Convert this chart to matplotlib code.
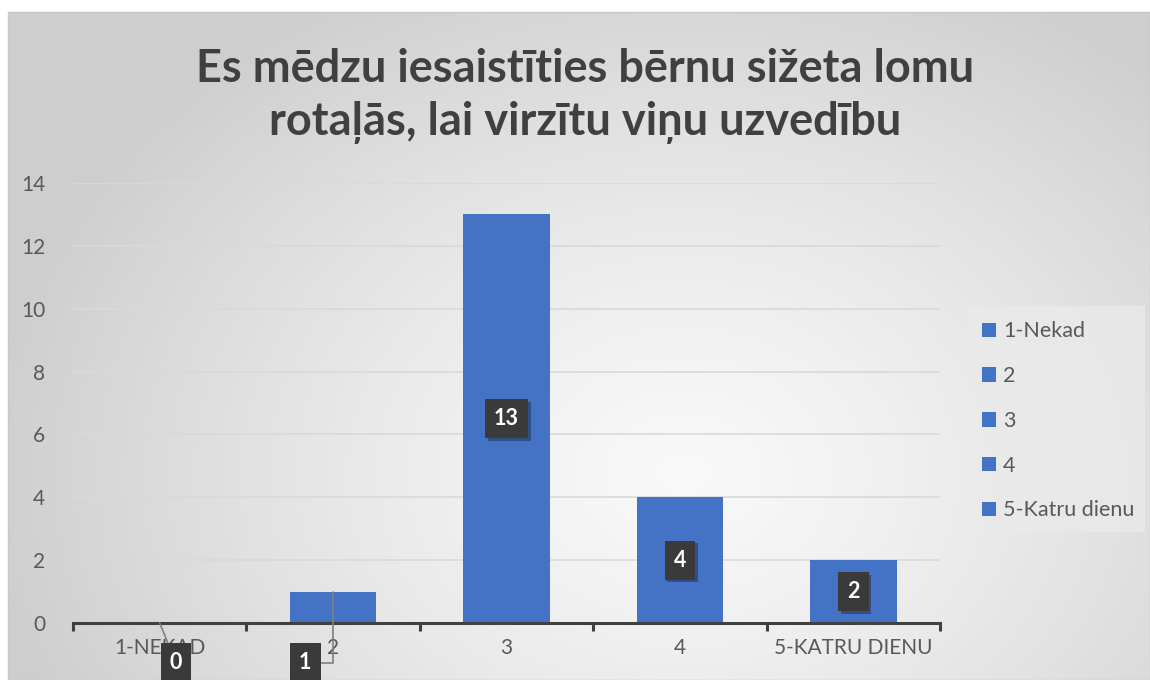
import numpy as np
import matplotlib
matplotlib.use("Agg")
import matplotlib.pyplot as plt
from matplotlib.patches import Patch, Rectangle
from matplotlib import patheffects as pe

categories = ["1-NEKAD", "2", "3", "4", "5-KATRU DIENU"]
legend_labels = ["1-Nekad", "2", "3", "4", "5-Katru dienu"]
values = [0, 1, 13, 4, 2]
title = "Es mēdzu iesaistīties bērnu sižeta lomu\nrotaļās, lai virzītu viņu uzvedību"
yticks = [0, 2, 4, 6, 8, 10, 12, 14]

BLUE = "#4472C4"
TXT = "#595959"
W, H = 1150, 680

plt.rcParams['font.family'] = ['Lato', 'DejaVu Sans']
fig = plt.figure(figsize=(W / 100, H / 100), dpi=100)
fig.patch.set_facecolor("white")

# background gradient chart area
bg = fig.add_axes([0, 0, 1, 1], zorder=-10)
bg.set_xlim(0, W); bg.set_ylim(H, 0); bg.axis("off")
yy, xx = np.mgrid[0:H, 0:W]
d = np.sqrt(((xx - 680) / 700.0) ** 2 + ((yy - 470) / 560.0) ** 2)
d = np.clip(d, 0, 1)
g = 0.975 - 0.165 * d ** 1.3
img = np.dstack([g, g, g])
bg.imshow(img, extent=(8, W, H, 12), aspect="auto", zorder=0)
bg.add_patch(Rectangle((8, 12), W - 8, H - 12, fill=False, ec="#C8C8C8", lw=1, zorder=1))
# legend box
bg.add_patch(Rectangle((969, 306), 176, 226, fc="#EAEAEA", ec="none", alpha=0.8, zorder=2))

ax = fig.add_axes([73 / W, 1 - 623 / H, (940 - 73) / W, (623 - 183) / H])
ax.set_facecolor("none")
x = np.arange(len(categories))
ax.bar(x, values, width=0.5, color=BLUE, zorder=3)
ax.set_xlim(-0.5, len(categories) - 0.5)
ax.set_ylim(0, 14)
ax.set_yticks(yticks)
ax.set_yticklabels([str(t) for t in yticks], fontsize=15, color=TXT)
ax.yaxis.grid(True, color="#D9D9D9", lw=1.2, zorder=0)
ax.set_axisbelow(True)
for s in ["top", "right", "left"]:
    ax.spines[s].set_visible(False)
ax.spines["bottom"].set_color("#404040")
ax.spines["bottom"].set_linewidth(2.2)
ax.spines["bottom"].set_zorder(4)
ax.tick_params(axis="y", length=0, pad=20)
ax.set_xticks(x)
ax.set_xticklabels(categories, fontsize=15, color=TXT)
ax.tick_params(axis="x", length=0, pad=11)
ax.set_xticks(np.arange(-0.5, len(categories), 1.0), minor=True)
ax.tick_params(axis="x", which="minor", length=6, width=2.2, color="#404040")

box = dict(boxstyle="square,pad=0.42", fc="#3A3A3A", ec="none")
shadow = [pe.withSimplePatchShadow(offset=(2, -2), shadow_rgbFace="#000000", alpha=0.3)]
for i, v in enumerate(values):
    if v >= 2:
        t = ax.text(i, v / 2, str(v), ha="center", va="center", fontsize=15.5, fontweight="bold",
                    color="white", bbox=box, zorder=6)
        t.get_bbox_patch().set_path_effects(shadow)

# outside labels with leader lines
a0 = ax.annotate(str(values[0]), xy=(0, values[0]), xytext=(0.094, -1.27), ha="center", va="center",
                 fontsize=15.5, fontweight="bold", color="white", bbox=box, zorder=6,
                 annotation_clip=False,
                 arrowprops=dict(arrowstyle="-", color="#7F7F7F", lw=1.2, shrinkA=0, shrinkB=0))
a1 = ax.annotate(str(values[1]), xy=(1, values[1]), xytext=(0.84, -1.27), ha="center", va="center",
                 fontsize=15.5, fontweight="bold", color="white", bbox=box, zorder=6,
                 annotation_clip=False,
                 arrowprops=dict(arrowstyle="-", color="#7F7F7F", lw=1.2, shrinkA=0, shrinkB=0,
                                 connectionstyle="angle,angleA=0,angleB=90,rad=0"))

handles = [Patch(facecolor=BLUE, edgecolor="none") for _ in legend_labels]
leg = fig.legend(handles, legend_labels, loc="upper left", bbox_to_anchor=(963 / W, 1 - 302 / H),
                 frameon=False, fontsize=15.5, labelcolor=TXT, handlelength=0.65, handleheight=0.65,
                 handletextpad=0.3, labelspacing=1.15)

fig.text(585 / W, 1 - 96 / H, title, ha="center", va="center", fontsize=32.5, fontweight="bold",
         color="#404040", linespacing=1.35)

fig.savefig("out.png", dpi=100)
